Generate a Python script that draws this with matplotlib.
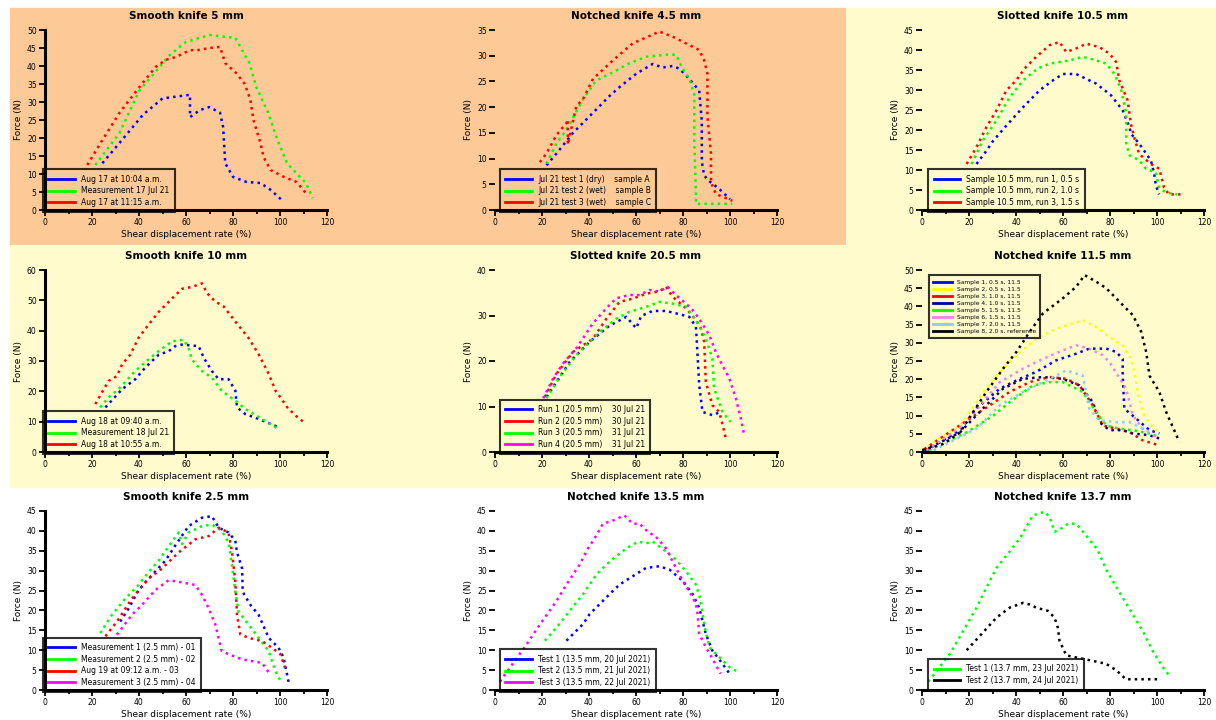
import matplotlib
matplotlib.use("Agg")
from matplotlib import pyplot as plt
from matplotlib.patches import Rectangle
from matplotlib.ticker import MultipleLocator

# ---- panel titles / axis text ----
titles = ["Smooth knife 5 mm", "Notched knife 4.5 mm", "Slotted knife 10.5 mm",
          "Smooth knife 10 mm", "Slotted knife 20.5 mm", "Notched knife 11.5 mm",
          "Smooth knife 2.5 mm", "Notched knife 13.5 mm", "Notched knife 13.7 mm"]
xlabel = "Shear displacement rate (%)"
ylabel = "Force (N)"

# ---- panel 1 : smooth knife 5 mm ----
p1_blue_x = [24.4, 31.7, 41.6, 50, 61.7, 61.7, 66, 70, 74.5, 75.8, 76.7, 80, 85.7, 91.7, 96, 100.7]
p1_blue_y = [13, 18.6, 26.4, 31, 32, 25.8, 27.8, 28.6, 27, 23, 13, 9.2, 7.8, 7.5, 5.6, 2.8]
p1_green_x = [21.4, 31.7, 40, 53, 60, 70, 81, 87, 90, 95, 98.6, 103, 107, 111, 114]
p1_green_y = [12.5, 21.4, 33, 43, 46.7, 48.6, 47.8, 40.8, 34, 27, 20, 13, 10.2, 7.5, 3.3]
p1_red_x = [18, 24.4, 31.7, 40, 47, 51.4, 55.7, 61.7, 65, 70, 74.5, 76.7, 81.4, 85, 87.4,
            88.7, 91.7, 93, 96, 101.6, 107, 111]
p1_red_y = [12.5, 19.4, 27, 34, 39.7, 41.7, 42.5, 44.4, 44.4, 45, 45.3, 40.8, 38, 35, 30.6,
            25, 18.6, 14.7, 11.1, 9.2, 7.8, 4.7]
p1_labels = ["Aug 17 at 10:04 a.m.", "Measurement 17 Jul 21", "Aug 17 at 11:15 a.m."]

# ---- panel 2 : notched knife 4.5 mm ----
p2_blue_x = [21.9, 26.2, 33.2, 41.7, 48.8, 53, 60.1, 67.1, 71.3, 75.6, 78.4, 82.7, 86.9, 88,
             88, 89, 91.2, 95.4, 100]
p2_blue_y = [8.7, 11, 15, 18.9, 22.2, 23.9, 26.5, 28.4, 27.7, 28, 27.5, 25.5, 23.2, 17.3,
             9.4, 6.7, 5.6, 4.1, 2.1]
p2_green_x = [21.9, 26.2, 30.4, 37.4, 43.1, 51.6, 56.5, 64.3, 72.8, 77, 79.8, 82.7, 84.8,
              84.8, 85.5, 85.5, 101]
p2_green_y = [9, 13, 15.6, 21.5, 25.2, 27.1, 28.4, 29.8, 30.2, 30.2, 27.5, 25.5, 22.5,
              13.6, 3, 1.2, 1.2]
p2_red_x = [19.1, 21.9, 26.2, 30.4, 31, 31, 34.6, 37.4, 41.7, 50.2, 58.6, 67.1, 69.9, 75.6,
            81.3, 86.9, 89, 90.4, 90.4, 91.9, 91.9, 94, 101]
p2_red_y = [9.3, 11, 14.6, 16.9, 17.6, 12.7, 20.2, 21.5, 25.5, 29.1, 32.4, 34.1, 34.7, 33.7,
            32.4, 31.1, 29.1, 26.5, 18.2, 11, 5.4, 3.1, 1.8]
p2_labels = ["Jul 21 test 1 (dry)    sample A", "Jul 21 test 2 (wet)    sample B",
             "Jul 21 test 3 (wet)    sample C"]

# ---- panel 3 : slotted knife 10.5 mm ----
p3_blue_x = [23.2, 27.4, 30.3, 35.9, 43, 50, 55.7, 59.9, 65.6, 69.8, 74.1, 80.4, 85.4, 88.3,
             88.9, 92.4, 97.4, 98.8, 99.5, 100.9]
p3_blue_y = [11.5, 14.8, 17.3, 21.1, 25.7, 29.9, 32.4, 34, 34, 32.8, 31.6, 28.7, 24.9, 20.7,
             19.1, 16.6, 12.4, 9.1, 6.2, 3.9]
p3_green_x = [21.1, 25.8, 31.7, 37.3, 43, 49.3, 54.3, 62.8, 68.5, 74.1, 78.4, 81.9, 84.8,
              86.9, 86.9, 88.3, 92.5, 95.3, 99.5, 100.9, 103.7, 108.6]
p3_green_y = [11.5, 17.3, 22.4, 28.2, 32.4, 35.4, 36.6, 37.4, 38.3, 37.4, 36.6, 34, 29.9,
              24.1, 16.6, 13.7, 12.4, 10.3, 9.4, 5.6, 4.4, 3.9]
p3_red_x = [19, 23.2, 27.4, 31.7, 35.9, 40.1, 43.7, 48.6, 54.3, 58.5, 61.4, 67, 69.8, 75.5,
            79.8, 82.6, 84, 87.5, 88.9, 90.3, 92.4, 97.4, 101, 103, 105.1, 110]
p3_red_y = [11.5, 15.7, 20.7, 24.9, 29.9, 32.4, 35.4, 38.3, 41.2, 42, 39.5, 40.7, 41.6, 40.7,
            39.1, 37, 32.4, 27.4, 21.5, 18.2, 14, 11.5, 10.3, 5.6, 3.9, 3.9]
p3_labels = ["Sample 10.5 mm, run 1, 0.5 s", "Sample 10.5 mm, run 2, 1.0 s",
             "Sample 10.5 mm, run 3, 1.5 s"]

# ---- panel 4 : smooth knife 10 mm ----
p4_blue_x = [25.7, 32.8, 38.4, 42.6, 48.4, 52.6, 55.4, 58.3, 65.4, 67.6, 71, 73.9, 78.1, 81,
             81.7, 85.2, 90.9, 99.3]
p4_blue_y = [14.7, 20.7, 24, 27.8, 32.1, 33.2, 34.9, 35.4, 34.9, 31, 26.7, 24, 24, 20.2,
             14.7, 12.5, 10.9, 8.2]
p4_green_x = [23.5, 27, 31.3, 38.4, 44, 48.4, 54.1, 59, 61.1, 62.5, 66.8, 71, 75.2, 81,
              85.2, 92.3, 99.3]
p4_green_y = [14.7, 18, 20.7, 26.7, 30.5, 33.3, 36.5, 37, 34.3, 30.5, 26.7, 24.5, 20.2,
              16.9, 14.2, 10.9, 7.6]
p4_red_x = [21.4, 27, 30.6, 32.8, 36.3, 39.8, 44, 48.4, 54.7, 58.3, 62.5, 66.8, 69, 72.5, 76,
            81, 86.6, 91, 95.3, 98.1, 100.2, 103.1, 106.6, 110.2]
p4_red_y = [15.8, 23.4, 25, 28.9, 32.1, 37.6, 41.9, 46.2, 51.1, 53.8, 54.4, 55.6, 52.3, 49.6,
            48, 43, 37.6, 32.1, 25.6, 20.2, 18, 14.7, 12, 9.8]
p4_labels = ["Aug 18 at 09:40 a.m.", "Measurement 18 Jul 21", "Aug 18 at 10:55 a.m."]

# ---- panel 5 : slotted knife 20.5 mm ----
p5_blue_x = [21.9, 26.2, 31.8, 40.3, 48.8, 55.9, 60.1, 62.2, 67.1, 72.8, 78.4, 82.7, 85.5,
             85.8, 86.9, 88.3, 92.5, 96]
p5_blue_y = [12.1, 15.4, 19.8, 24.2, 27.8, 29.7, 27.2, 29.9, 31, 31, 30.3, 29.7, 27.5, 25,
             14.7, 8.8, 8.1, 8.8]
p5_red_x = [21.2, 26.2, 33.2, 41.7, 47.4, 53, 58.6, 64.3, 69.9, 72.8, 75.6, 81.3, 85.5, 87.6,
            89, 89.7, 92.5, 95.4, 97.1, 98.2]
p5_red_y = [12.1, 17.2, 22, 24.9, 29.3, 33, 33.7, 34.8, 35.3, 36.3, 34.1, 31.6, 29, 27.2,
            24.3, 15.4, 10.3, 8.8, 5.5, 3]
p5_green_x = [21.9, 27.5, 34.6, 43.1, 51.6, 57.2, 64.3, 69.9, 75.6, 81.3, 85.5, 89.7, 92.5,
              93.2, 96.8, 100.3]
p5_green_y = [11.8, 16.5, 21.3, 25.7, 29.3, 30.8, 31.9, 33, 32.6, 31.9, 29, 25, 20.6, 14,
              8.8, 6.6]
p5_magenta_x = [20.5, 24.8, 29, 34.6, 41.7, 47.4, 51.6, 57.2, 61.5, 65.7, 69.9, 73.5, 77,
                81.3, 84.1, 86.9, 91.2, 94, 96.8, 99.7, 102.5, 104.6, 106]
p5_magenta_y = [11.8, 16.2, 19.5, 22.8, 28.3, 31.6, 33.8, 34.5, 34.5, 35.6, 35.3, 36.3, 34.5,
                32.6, 31.2, 29.3, 25.7, 21.9, 19, 16.2, 11.8, 7.4, 3.8]
p5_labels = ["Run 1 (20.5 mm)    30 Jul 21", "Run 2 (20.5 mm)    30 Jul 21",
             "Run 3 (20.5 mm)    31 Jul 21", "Run 4 (20.5 mm)    31 Jul 21"]

# ---- panel 6 : notched knife 11.5 mm ----
p6_black_x = [0, 9, 16.2, 21.8, 27.4, 34.5, 40.2, 45.8, 51.5, 59.9, 65.6, 69.2, 74.1, 78.4,
              84, 89.7, 93.3, 95.4, 96.8, 101, 103.9, 106.7, 109.5]
p6_black_y = [0.5, 2.2, 5.4, 11, 16.5, 22.9, 27.5, 33, 38.1, 42.2, 45.4, 48.6, 46.8, 45,
              41.3, 37.6, 33, 27.5, 21, 16.5, 11, 6.9, 2.8]
p6_yellow_x = [0, 16.2, 23.2, 30.3, 40.2, 48.6, 57.1, 68.4, 74.1, 79.8, 85.4, 89, 90.4, 91.8,
               93.9, 96.8, 100.3]
p6_yellow_y = [0.5, 7.3, 13.7, 20.1, 26.6, 31.1, 33.9, 36.2, 34.4, 31.6, 29.3, 25.6, 22,
               16.5, 11, 7.8, 5.5]
p6_violet_x = [2, 17.6, 26, 33.1, 43, 51.5, 59.9, 65.6, 71.2, 76.9, 79.8, 86.8, 88.3, 89.7,
               93.9, 99.5]
p6_violet_y = [0.5, 7.3, 13.7, 19.2, 22.9, 25.6, 27.9, 29.3, 28.4, 26.6, 24.7, 17.4, 13.7,
               10.1, 6.4, 4.1]
p6_blue_x = [2, 16.2, 23.2, 33.1, 41.6, 48.6, 57.1, 65.6, 71.2, 78.4, 82.6, 85.4, 85.4, 86.1,
             91.1, 96.8, 101]
p6_blue_y = [0.5, 6, 12, 17.4, 20.1, 22, 25.2, 27, 28.4, 28.4, 27.5, 25.6, 21, 11.9, 9.2,
             6, 5.1]
p6_navy_x = [1, 16.2, 26, 34.5, 43, 51.5, 59.9, 67, 72.7, 75.5, 79.8, 85.4, 89.7, 96.8, 101]
p6_navy_y = [0.5, 5.4, 12, 17.4, 20.1, 20.6, 20.1, 18.3, 13.7, 8.2, 6, 6, 5.1, 4.6, 3.7]
p6_red_x = [1, 20.4, 28.8, 37.3, 45.8, 54.3, 61.4, 67, 72.7, 76.9, 82.6, 88.3, 93.9, 101]
p6_red_y = [0.8, 9.2, 12.8, 16.5, 19.2, 20.6, 20.1, 18.3, 12.8, 7.3, 6.4, 5.5, 3.2, 1.8]
p6_green_x = [3, 19, 30.3, 37.3, 47.2, 54.3, 59.9, 68.4, 74.1, 78.4, 84, 89.7, 96.8, 101]
p6_green_y = [0.5, 5.4, 10, 13.7, 18.3, 19.2, 19.2, 16.5, 11, 7.3, 6.4, 6, 5.1, 4.1]
p6_sky_x = [5, 23.2, 33.1, 43, 51.5, 61.4, 68.4, 71.2, 75.5, 82.6, 88.3, 92.5, 96.8]
p6_sky_y = [0.5, 6.4, 12.8, 16.5, 19.2, 22.4, 21, 11.9, 8.7, 8.2, 8.2, 6.9, 5.5]
p6_labels = ["Sample 1, 0.5 s, 11.5", "Sample 2, 0.5 s, 11.5", "Sample 3, 1.0 s, 11.5",
             "Sample 4, 1.0 s, 11.5", "Sample 5, 1.5 s, 11.5", "Sample 6, 1.5 s, 11.5",
             "Sample 7, 2.0 s, 11.5", "Sample 8, 2.0 s, reference"]

# ---- panel 7 : smooth knife 2.5 mm ----
p7_blue_x = [32, 35.6, 39.8, 44.1, 51.2, 55.4, 61.1, 66.8, 71, 73.9, 78.1, 81, 81.7, 83.9,
             84.1, 87.4, 90.9, 95.2, 99.4, 101.5, 103.7]
p7_blue_y = [17.2, 20.5, 25.1, 28, 32.5, 36.3, 41.2, 43.3, 43.7, 40.8, 39.6, 37.5, 34.6,
             30.5, 24.7, 21.4, 18.9, 13.1, 10.6, 8.2, 1.9]
p7_green_x = [23.5, 28.5, 34.2, 39.8, 44.1, 48.4, 53.3, 56.9, 58.3, 61.1, 66.8, 71, 75.2,
              78.1, 79.6, 81, 82.4, 86.7, 90.9, 95.2, 98, 100.2]
p7_green_y = [14.3, 18.9, 23, 26.4, 29.7, 32.5, 36.7, 39.6, 36.7, 39.6, 41.2, 41.6, 40,
              37.1, 31.3, 24.7, 19.7, 16.4, 13.1, 9.8, 4.8, 2.3]
p7_red_x = [25.7, 30.6, 37, 44.1, 49.7, 56.9, 64, 69.7, 73.9, 78.1, 79.6, 81, 81.7, 83.1,
            86.7, 92.4, 96.6, 100.2, 102.3]
p7_red_y = [13.5, 17.2, 23, 28, 30.5, 34.6, 37.9, 38.7, 40.8, 39.6, 34.6, 27.2, 18.9, 14,
            13.1, 12.3, 10.6, 9, 5.3]
p7_magenta_x = [30.6, 37, 41.3, 46.9, 52.6, 56.9, 64, 66.8, 69.7, 72.5, 75.2, 78.1, 83.9,
                92.4, 95.2]
p7_magenta_y = [13.9, 18.9, 21.4, 25.1, 27.6, 27.2, 26.4, 23.9, 20.5, 16.4, 9.8, 9, 7.7,
                6.8, 4.4]
p7_labels = ["Measurement 1 (2.5 mm) - 01", "Measurement 2 (2.5 mm) - 02",
             "Aug 19 at 09:12 a.m. - 03", "Measurement 3 (2.5 mm) - 04"]

# ---- panel 8 : notched knife 13.5 mm ----
p8_blue_x = [30.4, 37.5, 40.3, 48.8, 53, 58.6, 64.3, 69.9, 74.2, 79.9, 84.1, 86.9, 88.3,
             89.7, 92.5, 96.8, 100.3]
p8_blue_y = [12.4, 16.6, 19.1, 24.1, 26.5, 28.6, 30.7, 31.1, 30.3, 27.4, 24.1, 20.7, 17.4,
             14.1, 9.9, 6.6, 3.7]
p8_green_x = [21.2, 26.2, 31.8, 37.5, 43.1, 48.8, 55.9, 60.8, 64.3, 67.1, 72.8, 77, 81.3,
              85.5, 87.6, 89, 91.2, 95.4, 99.7, 103.2]
p8_green_y = [12.4, 15.7, 19.9, 24.1, 29, 32.3, 35.6, 37.3, 36.9, 37.3, 34.8, 32.8, 29.8,
              26.5, 22.4, 16.6, 10.8, 8.3, 5.8, 4.6]
p8_magenta_x = [2.1, 13.6, 16.4, 21.2, 26.2, 30.4, 36, 39.6, 43.1, 45.9, 50.2, 55.1, 58.6,
                61.5, 65, 68.5, 72.8, 75.6, 79.9, 83.4, 85.5, 86.2, 86.9, 89.7, 92.5, 96]
p8_magenta_y = [2.1, 11.6, 14.1, 18.2, 22.4, 26.5, 31.5, 35.6, 38.8, 41.8, 42.6, 43.9, 41.8,
                41.8, 39.8, 38.5, 35.6, 32.3, 27.4, 24.1, 21.6, 19.1, 14.1, 10.8, 7.9, 4.1]
p8_labels = ["Test 1 (13.5 mm, 20 Jul 2021)", "Test 2 (13.5 mm, 21 Jul 2021)",
             "Test 3 (13.5 mm, 22 Jul 2021)"]

# ---- panel 9 : notched knife 13.7 mm ----
p9_green_x = [2.7, 11.9, 17.6, 23.2, 27.4, 31.7, 37.3, 41.6, 47.2, 52.2, 54.3, 56.4, 59.2,
              62.1, 65.6, 69.8, 74.8, 78.3, 81.2, 85.4, 89.6, 93.9, 98.1, 102.4, 105.1]
p9_green_y = [2.1, 9.1, 14.9, 20.7, 25.7, 30.7, 34.8, 38.1, 43.9, 44.8, 43.5, 39.8, 40.6,
              41.8, 41.8, 38.9, 35.2, 30.3, 27.4, 23.2, 19.1, 14.9, 9.9, 5.8, 3.7]
p9_black_x = [19, 26, 31.7, 37.3, 43, 45.8, 48.6, 53.6, 56.4, 57.8, 58.5, 61.4, 71.3, 78.3,
              82.6, 86.8, 101]
p9_black_y = [10, 14.5, 18.2, 20.7, 21.9, 21.5, 20.7, 19.9, 18.2, 15.7, 12.4, 8.7, 7.5, 6.6,
              5, 2.7, 2.7]
p9_labels = ["Test 1 (13.7 mm, 23 Jul 2021)", "Test 2 (13.7 mm, 24 Jul 2021)"]

# ---- y axis range of each panel ----
y_tops = [50, 35, 45, 60, 40, 50, 45, 45, 45]
y_steps = [5, 5, 5, 10, 10, 5, 5, 5, 5]

panels = [
    [(p1_blue_x, p1_blue_y, "blue"), (p1_green_x, p1_green_y, "lime"), (p1_red_x, p1_red_y, "red")],
    [(p2_blue_x, p2_blue_y, "blue"), (p2_green_x, p2_green_y, "lime"), (p2_red_x, p2_red_y, "red")],
    [(p3_blue_x, p3_blue_y, "blue"), (p3_green_x, p3_green_y, "lime"), (p3_red_x, p3_red_y, "red")],
    [(p4_blue_x, p4_blue_y, "blue"), (p4_green_x, p4_green_y, "lime"), (p4_red_x, p4_red_y, "red")],
    [(p5_blue_x, p5_blue_y, "blue"), (p5_red_x, p5_red_y, "red"), (p5_green_x, p5_green_y, "lime"),
     (p5_magenta_x, p5_magenta_y, "magenta")],
    [(p6_blue_x, p6_blue_y, "blue"), (p6_yellow_x, p6_yellow_y, "yellow"), (p6_red_x, p6_red_y, "red"),
     (p6_navy_x, p6_navy_y, "#00008b"), (p6_green_x, p6_green_y, "lime"),
     (p6_violet_x, p6_violet_y, "violet"), (p6_sky_x, p6_sky_y, "lightskyblue"),
     (p6_black_x, p6_black_y, "black")],
    [(p7_blue_x, p7_blue_y, "blue"), (p7_green_x, p7_green_y, "lime"), (p7_red_x, p7_red_y, "red"),
     (p7_magenta_x, p7_magenta_y, "magenta")],
    [(p8_blue_x, p8_blue_y, "blue"), (p8_green_x, p8_green_y, "lime"),
     (p8_magenta_x, p8_magenta_y, "magenta")],
    [(p9_green_x, p9_green_y, "lime"), (p9_black_x, p9_black_y, "black")],
]
labels = [p1_labels, p2_labels, p3_labels, p4_labels, p5_labels, p6_labels, p7_labels,
          p8_labels, p9_labels]

W, H = 1216, 720
fig = plt.figure(figsize=(W / 100, H / 100), dpi=100)

# panel backgrounds (pixels: x0, y0 from top, width, height)
orange = "#fcc997"
yellow = "#fffbcc"
for (x0, y0, w, h, c) in [(10, 8, 835, 237, orange), (847, 8, 369, 237, yellow),
                          (10, 245, 1206, 242, yellow)]:
    fig.add_artist(Rectangle((x0 / W, 1 - (y0 + h) / H), w / W, h / H,
                             transform=fig.transFigure, color=c, zorder=-10))

col_left = [45, 495, 922]
row_box = [(30, 210), (270, 452), (511, 690)]
ax_w = 282
leg_x = [0.0, 0.025, 0.03]

for i in range(9):
    r, c = divmod(i, 3)
    top, bot = row_box[r]
    ax = fig.add_axes([col_left[c] / W, 1 - bot / H, ax_w / W, (bot - top) / H])
    ax.set_facecolor("none")
    for x, y, col in panels[i]:
        ax.plot(x, y, linestyle=":", color=col, linewidth=1.8)
    ax.set_xlim(0, 120)
    ax.set_ylim(0, y_tops[i])
    ax.xaxis.set_major_locator(MultipleLocator(20))
    ax.xaxis.set_minor_locator(MultipleLocator(10))
    ax.yaxis.set_major_locator(MultipleLocator(y_steps[i]))
    ax.spines["top"].set_visible(False)
    ax.spines["right"].set_visible(False)
    ax.spines["bottom"].set_linewidth(2.2)
    ax.spines["left"].set_linewidth(2.2)
    ax.spines["left"].set_visible(c == 0)
    ax.tick_params(which="both", direction="out", width=1.3, labelsize=5.5, pad=2)
    ax.tick_params(which="major", length=4)
    ax.tick_params(which="minor", length=3)
    ax.set_title(titles[i], fontsize=7.5, fontweight="bold", pad=8)
    ax.set_xlabel(xlabel, fontsize=6.5, labelpad=2)
    ax.set_ylabel(ylabel, fontsize=6.5, labelpad=3)

    if i == 5:
        leg = ax.legend(labels[i], loc="upper left", bbox_to_anchor=(0.03, 0.96),
                        fontsize=4.3, handlelength=3.2, borderaxespad=0, labelspacing=0.3)
    else:
        by = 0.01 if i == 8 else 0.0
        leg = ax.legend(labels[i], loc="lower left", bbox_to_anchor=(leg_x[c], by),
                        fontsize=5.5, handlelength=3.5, borderaxespad=0, labelspacing=0.35)
    leg.get_frame().set_edgecolor("black")
    leg.get_frame().set_linewidth(1.5)
    leg.get_frame().set_facecolor("none")
    leg.get_frame().set_boxstyle("square", pad=0.3)
    for h in leg.get_lines():
        h.set_linestyle("-")
        h.set_linewidth(2)

fig.savefig("out.png", dpi=100)
